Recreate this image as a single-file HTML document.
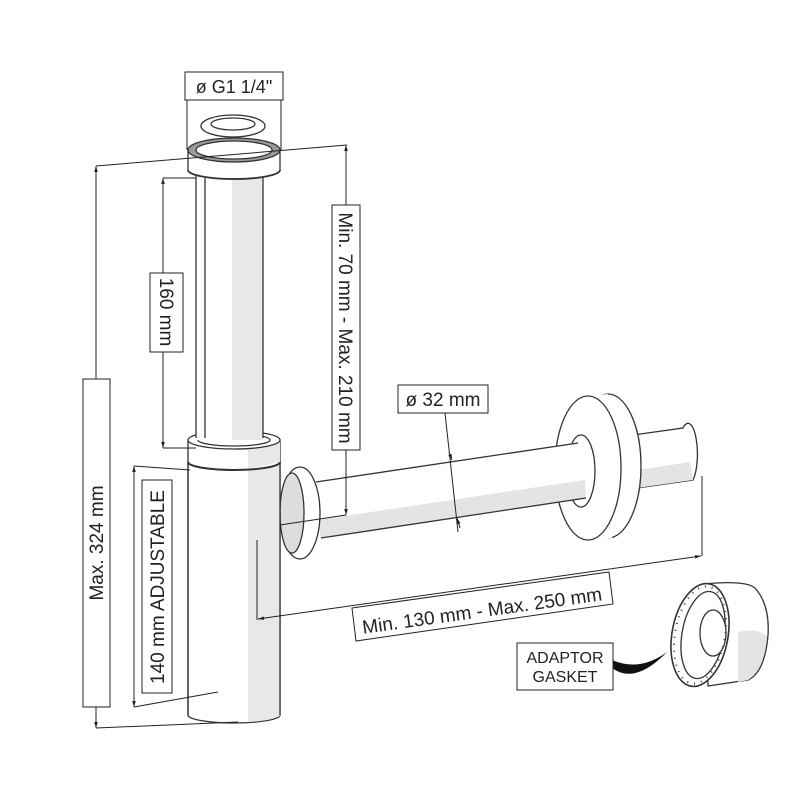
<!DOCTYPE html>
<html><head><meta charset="utf-8"><style>
html,body{margin:0;padding:0;background:#fff;}
svg{display:block;}
text{font-family:"Liberation Sans",Arial,sans-serif;fill:#222;}
</style></head><body>
<svg width="800" height="800" viewBox="0 0 800 800" xmlns="http://www.w3.org/2000/svg">
<defs>
<marker id="a" viewBox="0 0 10 10" refX="10" refY="5" markerWidth="6" markerHeight="6" orient="auto-start-reverse"><path d="M0,2 L10,5 L0,8 z" fill="#222"/></marker>
</defs>
<g stroke="#333" stroke-width="1.3" fill="#fff">
<!-- back pipe -->
<path d="M633,435 L683,428 A8,26 0 0 1 693,480 L637,488 Z"/>
<path d="M637,470 L690,462 L693,480 L637,488 Z" fill="#e4e4e4" stroke="none"/>
<!-- wall flange -->
<ellipse cx="608" cy="466" rx="33" ry="72"/>
<path d="M588,396 L608,394 L612,538 L592,540 Z" stroke="none"/>
<ellipse cx="588" cy="468" rx="33" ry="72"/>
<ellipse cx="581" cy="471" rx="14" ry="36"/>
<!-- front pipe -->
<path d="M316,482 L578,443 L586,498 L321,538 Z" stroke="none"/>
<path d="M318,520 L585,480 L586,498 L321,538 Z" fill="#e4e4e4" stroke="none"/>
<line x1="316" y1="482" x2="578" y2="443"/>
<line x1="321" y1="538" x2="586" y2="498"/>
<!-- side flange -->
<ellipse cx="300" cy="513" rx="20" ry="46"/>
<ellipse cx="292" cy="513" rx="12" ry="40" fill="#ddd"/>
<!-- body -->
<path d="M188,462 L188,715 A46,8 0 0 0 280,715 L280,462 Z"/>
<path d="M248,466 L280,462 L280,715 A46,8 0 0 1 248,722 Z" fill="#e8e8e8" stroke="none"/>
<line x1="188" y1="462" x2="188" y2="715"/>
<line x1="280" y1="462" x2="280" y2="715"/>
<!-- lower collar -->
<path d="M188,440 L188,462 A46,8 0 0 0 280,462 L280,440 Z"/>
<path d="M248,446 L280,440 L280,462 L248,469 Z" fill="#e8e8e8" stroke="none"/>
<path d="M188,462 A46,8 0 0 0 280,462" stroke-width="2" fill="none"/>
<ellipse cx="234" cy="440" rx="46" ry="9"/>
<ellipse cx="234" cy="440" rx="36" ry="6"/>
<!-- main tube -->
<rect x="196" y="175" width="67" height="265" stroke="none"/>
<rect x="232" y="175" width="31" height="265" fill="#e8e8e8" stroke="none"/>
<line x1="196" y1="175" x2="196" y2="438"/>
<line x1="205" y1="178" x2="205" y2="438"/>
<line x1="263" y1="175" x2="263" y2="438"/>
<!-- top collar -->
<path d="M188,150 L188,170 A46,9 0 0 0 280,170 L280,150 Z"/>
<path d="M188,170 A46,9 0 0 0 280,170" stroke-width="1.8" fill="none"/>
<ellipse cx="234" cy="150" rx="46" ry="12" fill="#999"/>
<ellipse cx="234" cy="150" rx="38" ry="9"/>
<!-- cap -->
<ellipse cx="233" cy="126" rx="32" ry="11"/>
<ellipse cx="233" cy="124" rx="22" ry="6"/>
<!-- gasket -->
<path d="M704,584 Q745,580 755,588 Q770,605 768,635 Q765,672 748,680 L708,686 Z"/>
<path d="M738,632 Q758,628 767,636 Q764,670 748,680 L738,682 Z" fill="#e4e4e4" stroke="none"/>
<ellipse cx="700" cy="635" rx="28" ry="52" transform="rotate(10 700 635)" stroke-width="1.6"/>
<ellipse cx="703" cy="635" rx="21" ry="44" transform="rotate(10 703 635)"/>
<ellipse cx="713" cy="633" rx="13" ry="23"/>
</g>
<ellipse cx="700" cy="635" rx="25" ry="49" transform="rotate(10 700 635)" fill="none" stroke="#333" stroke-width="2" stroke-dasharray="1 6"/>
<!-- dimension lines -->
<g stroke="#222" stroke-width="1" fill="none">
<line x1="187" y1="100" x2="187" y2="150"/><line x1="281" y1="100" x2="281" y2="150"/>
<polyline points="96,166 347,145"/>
<line x1="96" y1="166" x2="96" y2="728" marker-start="url(#a)" marker-end="url(#a)"/>
<line x1="96" y1="728" x2="238" y2="722"/>
<line x1="163" y1="178" x2="163" y2="448" marker-start="url(#a)" marker-end="url(#a)"/>
<line x1="163" y1="178" x2="196" y2="178"/><line x1="163" y1="448" x2="196" y2="448"/>
<line x1="346" y1="145" x2="346" y2="515" marker-start="url(#a)" marker-end="url(#a)"/>
<line x1="346" y1="515" x2="280" y2="525"/>
<line x1="134" y1="466" x2="134" y2="707" marker-start="url(#a)" marker-end="url(#a)"/>
<line x1="134" y1="466" x2="190" y2="470"/><line x1="134" y1="707" x2="218" y2="692"/>
<line x1="445" y1="413" x2="458" y2="532"/>
<path d="M449,452 L452,460" marker-end="url(#a)"/><path d="M460,528 L457,518" marker-end="url(#a)"/>
<line x1="257" y1="540" x2="257" y2="620"/>
<line x1="702" y1="476" x2="702" y2="556"/>
<line x1="258" y1="619" x2="701" y2="556" marker-start="url(#a)" marker-end="url(#a)"/>
</g>
<path d="M612,668 Q635,685 667,652 Q640,672 612,660 Z" fill="#111"/>
<!-- labels -->
<g fill="#fff" stroke="#222" stroke-width="1">
<rect x="185" y="72" width="98" height="28"/>
<rect x="83" y="379" width="27" height="328"/>
<rect x="150" y="273" width="33" height="79"/>
<rect x="332" y="205" width="28" height="245"/>
<rect x="142" y="480" width="30" height="213"/>
<rect x="398" y="385" width="90" height="28"/>
<rect x="517" y="643" width="96" height="47"/>
<polygon points="352,608 609,572 613,604 356,641"/>
</g>
<text x="234" y="93" font-size="18" text-anchor="middle">ø G1 1/4"</text>
<text transform="translate(103,543) rotate(-90)" font-size="19" text-anchor="middle">Max. 324 mm</text>
<text transform="translate(160,312) rotate(90)" font-size="19" text-anchor="middle">160 mm</text>
<text transform="translate(339,328) rotate(90)" font-size="19" text-anchor="middle">Min. 70 mm - Max. 210 mm</text>
<text transform="translate(164,587) rotate(-90)" font-size="19" text-anchor="middle">140 mm ADJUSTABLE</text>
<text x="443" y="406" font-size="19" text-anchor="middle">ø 32 mm</text>
<text transform="translate(483,617) rotate(-8)" font-size="19" text-anchor="middle">Min. 130 mm - Max. 250 mm</text>
<text x="565" y="663" font-size="16" text-anchor="middle">ADAPTOR</text>
<text x="565" y="682" font-size="16" text-anchor="middle">GASKET</text>
</svg>
</body></html>
